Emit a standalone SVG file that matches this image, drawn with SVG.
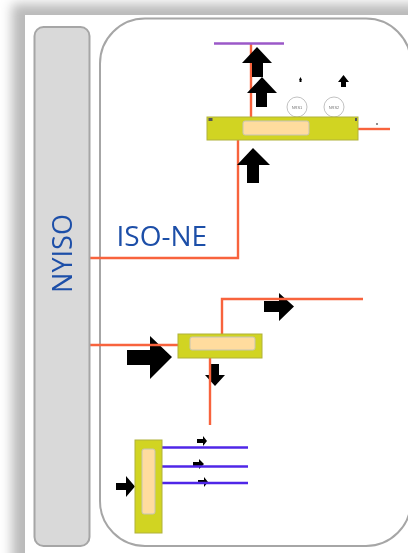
<svg xmlns="http://www.w3.org/2000/svg" width="408" height="553" viewBox="0 0 408 553">
<style>
.yellow{fill:#d1d420;stroke:#b0b23a;stroke-width:1}
.inner{fill:#ffdc9e;stroke:#c4c4b4;stroke-width:1}
.orange{fill:none;stroke:#f8643c;stroke-width:2.400}
.purple{fill:none;stroke:#5028e8;stroke-width:2.400}
.arrow{fill:#000}
.label{font-family:"Open Sans","Liberation Sans",sans-serif;fill:#1f4fa8}
.tiny{font-family:"Liberation Sans",sans-serif;font-size:4px;fill:#777;text-anchor:middle}
.ring{fill:#fff;stroke:#c2c2c2;stroke-width:1}
</style>
<defs>
<filter id="shadow" x="-20%" y="-20%" width="140%" height="140%"><feGaussianBlur stdDeviation="6"/></filter>
<filter id="soft" x="-5%" y="-5%" width="110%" height="110%"><feGaussianBlur stdDeviation="0.45"/></filter>
</defs>
<rect width="408" height="553" fill="#fff"/>
<rect x="12" y="4" width="460" height="600" fill="#bababa" filter="url(#shadow)"/>
<rect x="25" y="15" width="400" height="560" fill="#fff"/>
<g filter="url(#soft)">
<g id="iso-ne-panel"><rect x="100" y="18.500" width="311" height="527.500" rx="45" ry="45" fill="#fff" stroke="#a6a6a6" stroke-width="2"/>
<text class="label" x="116.500" y="246" font-size="28">ISO-NE</text></g>
<g id="arrows-lower" class="arrow">
<path d="M264 301H279V293L294 306.500L279 321V312H264Z"/>
<path d="M127 350H150V336L172 357L150 379V365H127Z"/>
<path d="M211 364H219V375H225L215 386L205 375H211Z"/>
<path d="M197 439H203V436L207 441L203 446V443H197Z"/>
<path d="M193 462H199V459L204 464L199 469V466H193Z"/>
<path d="M198 480H204V477L208 482L204 487V484H198Z"/>
<path d="M116 483H126V476L135 486.500L126 497V490H116Z"/>
</g>
<g id="connectors">
<path class="orange" d="M90 258H238V140"/>
<path class="orange" d="M251 44V117"/>
<path class="orange" d="M358 129H390"/>
<path class="orange" d="M90 345H178"/>
<path class="orange" d="M222 334V299H363"/>
<path class="orange" d="M210 358V425"/>
<path d="M214 43.500H284" fill="none" stroke="#9b59c8" stroke-width="2.500"/>
<path class="purple" d="M162 447.500H248M162 466.500H248M162 483H248"/>
</g>
<g id="arrows-upper" class="arrow">
<path d="M257 47L272 63H263V77H252V63H242Z"/>
<path d="M262 77L277 93H267V107H256V93H247Z"/>
<path d="M253 148L270 165H259V183H247V165H237Z"/>
<path d="M343.500 75L349 82H346V87H341V82H338Z"/>
<path d="M300.500 77L302 80H301.500V82H299.500V80H299Z"/>
<circle cx="377" cy="124" r="0.800"/>
</g>
<g id="nyiso"><rect x="34.500" y="27" width="55" height="519" rx="9" fill="#d9d9d9" stroke="#a6a6a6" stroke-width="2"/>
<text class="label" transform="translate(72 253.500) rotate(-90)" font-size="27" text-anchor="middle">NYISO</text></g>
<g id="node-top">
<circle class="ring" cx="297" cy="107" r="10"/><text class="tiny" x="297" y="108.500">NRS1</text>
<circle class="ring" cx="334" cy="107" r="10"/><text class="tiny" x="334" y="108.500">NRS2</text>
<rect class="yellow" x="207" y="117" width="151" height="23"/>
<rect class="inner" x="243" y="121" width="66" height="14" rx="2"/>
<rect x="208.500" y="118" width="4" height="3" fill="#555"/>
<rect x="355" y="118" width="2" height="3" fill="#555"/>
</g>
<g id="node-middle">
<rect class="yellow" x="178" y="334" width="84" height="24"/>
<rect class="inner" x="190" y="337" width="65" height="13" rx="2"/>
</g>
<g id="node-bottom">
<rect class="yellow" x="135" y="440" width="27" height="93"/>
<rect class="inner" x="142" y="449" width="13" height="65" rx="2"/>
</g>
</g>
</svg>
